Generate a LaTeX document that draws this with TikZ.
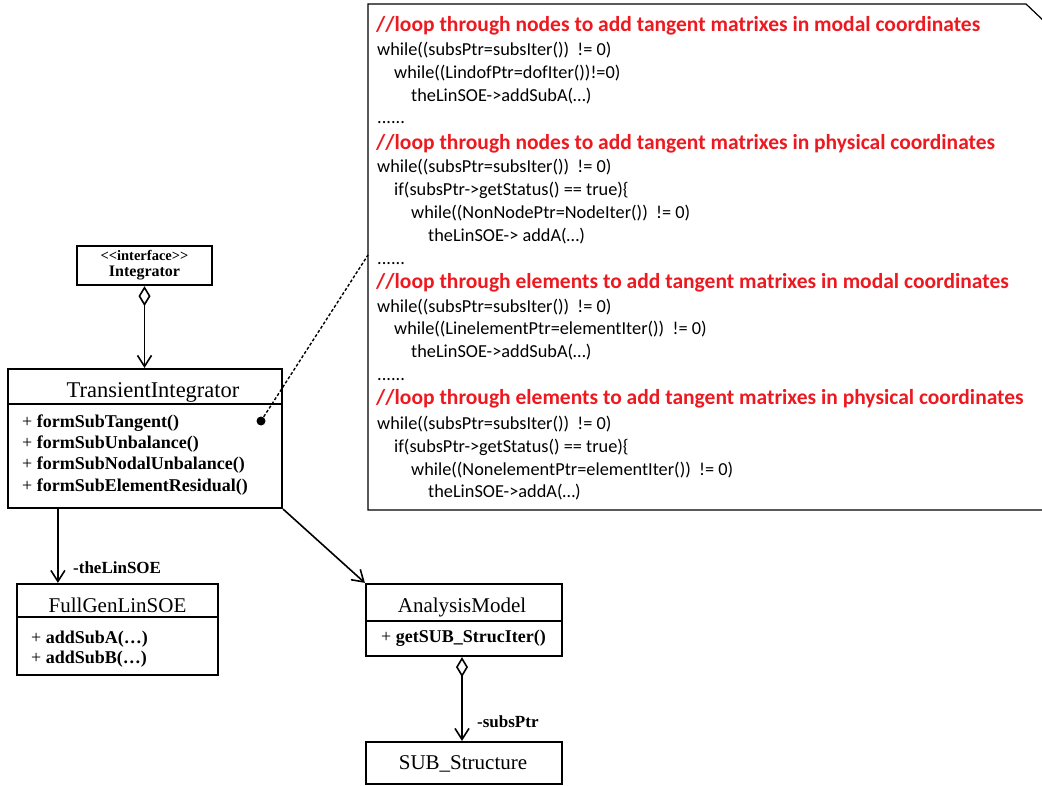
\documentclass[tikz,border=0pt]{standalone}
\usepackage{fontspec}
\newfontfamily\umlfont{Liberation Serif}
\newfontfamily\codefont{Carlito}
\usetikzlibrary{arrows.meta,calc}
\definecolor{noteRed}{RGB}{236,26,32}
\tikzset{
  umlbox/.style={draw, line width=2.2pt, inner sep=0pt},
  divider/.style={line width=1.3pt},
  cname/.style={font=\umlfont\fontsize{21}{24}\selectfont, anchor=base, inner sep=0pt},
  meth/.style={font=\umlfont\fontsize{18}{21}\selectfont, anchor=base west, inner sep=0pt},
  role/.style={font=\umlfont\bfseries\fontsize{17}{20}\selectfont, anchor=base west, inner sep=0pt},
  code/.style={font=\codefont\fontsize{18.3}{21}\selectfont, anchor=base west, inner sep=0pt},
  codehead/.style={font=\codefont\bfseries\fontsize{21.5}{24}\selectfont, text=noteRed, anchor=base west, inner sep=0pt},
  assoc/.style={line width=1.6pt, -{Straight Barb[length=11pt, width=14pt, line width=1.6pt]}},
  aggr/.style={line width=1.6pt, {Diamond[open, length=20pt, width=12pt, line width=1.6pt]}-{Straight Barb[length=11pt, width=14pt, line width=1.6pt]}},
}
\newcommand{\plusb}[1]{+ \textbf{#1}}
\begin{document}
\begin{tikzpicture}[x=1pt, y=-1pt]
\useasboundingbox (0,0) rectangle (1042,786);

% ---- interface Integrator
\node[umlbox, minimum width=135pt, minimum height=39pt] (int) at (144.5,265.5) {};
\node[font=\umlfont\bfseries\fontsize{14.5}{16}\selectfont, anchor=base, inner sep=0pt] (intst) at (144.5,261) {<<interface>>};
\node[font=\umlfont\bfseries\fontsize{16}{18}\selectfont, anchor=base, inner sep=0pt] (intname) at (144.5,277) {Integrator};

% ---- TransientIntegrator
\node[umlbox, minimum width=274pt, minimum height=139pt] (ti) at (145,438.5) {};
\draw[divider] (ti.west |- 0,404) -- (ti.east |- 0,404);
\node[cname, font=\umlfont\fontsize{22.5}{25}\selectfont] (tiname) at (153,398) {TransientIntegrator};
\node[meth] (tim1) at (22,427) {\plusb{formSubTangent()}};
\node[meth] (tim2) at (22,448) {\plusb{formSubUnbalance()}};
\node[meth] (tim3) at (22,469) {\plusb{formSubNodalUnbalance()}};
\node[meth] (tim4) at (22,491) {\plusb{formSubElementResidual()}};

% ---- FullGenLinSOE
\node[umlbox, minimum width=201pt, minimum height=91pt] (fg) at (117.5,629.5) {};
\draw[divider] (fg.west |- 0,617) -- (fg.east |- 0,617);
\node[cname] (fgname) at (117.5,612) {FullGenLinSOE};
\node[meth] (fgm1) at (31,643) {\plusb{addSubA(\ldots)}};
\node[meth] (fgm2) at (31,663) {\plusb{addSubB(\ldots)}};

% ---- AnalysisModel
\node[umlbox, minimum width=196pt, minimum height=72pt] (am) at (464,620) {};
\draw[divider] (am.west |- 0,621) -- (am.east |- 0,621);
\node[cname] (amname) at (462,612) {AnalysisModel};
\node[meth] (amm1) at (381,642) {\plusb{getSUB\_StrucIter()}};

% ---- SUB_Structure
\node[umlbox, minimum width=196pt, minimum height=42pt] (sub) at (464,763) {};
\node[cname] (subname) at (463,769) {SUB\_Structure};

% ---- relations
\draw[aggr] (int.south) -- (int.south |- ti.north);
\draw[assoc] ($(ti.south west)+(51,0)$) coordinate (tfa) -- (tfa |- fg.north);
\node[role] (lsoe) at (73,573) {-theLinSOE};
\draw[assoc] (ti.south east) -- (am.north west);
\draw[aggr] ($(am.south)+(-2,0)$) coordinate (asa) -- (asa |- sub.north);
\node[role] (sptr) at (477,727) {-subsPtr};

% ---- note with folded corner (right side runs off the page)
\draw[line width=1.2pt] (1046,510) -- (368,510) -- (368,4) -- (1026,4) -- (1046,23);
\coordinate (notepin) at (368,255);
\node[circle, fill, inner sep=0pt, minimum size=9pt] (pin) at (261,421) {};
\draw[line width=1.4pt, dash pattern=on 3pt off 2pt] (pin.center) -- (notepin);

% note text
\node[codehead] (h1) at (376,32) {//loop through nodes to add tangent matrixes in modal coordinates};
\node[code] (a1) at (377,56) {while((subsPtr=subsIter())\ \ != 0)};
\node[code] (a2) at (394,79) {while((LindofPtr=dofIter())!=0)};
\node[code] (a3) at (411,102) {theLinSOE->addSubA(…)};
\node[code] (d1) at (377,124) {......};
\node[codehead] (h2) at (376,150) {//loop through nodes to add tangent matrixes in physical coordinates};
\node[code] (b1) at (377,173) {while((subsPtr=subsIter())\ \ != 0)};
\node[code] (b2) at (394,196) {if(subsPtr->getStatus() == true)\{};
\node[code] (b3) at (411,219) {while((NonNodePtr=NodeIter())\ \ != 0)};
\node[code] (b4) at (428,242) {theLinSOE-> addA(…)};
\node[code] (d2) at (377,265) {......};
\node[codehead] (h3) at (376,289) {//loop through elements to add tangent matrixes in modal coordinates};
\node[code] (c1) at (377,313) {while((subsPtr=subsIter())\ \ != 0)};
\node[code] (c2) at (394,335) {while((LinelementPtr=elementIter())\ \ != 0)};
\node[code] (c3) at (411,358) {theLinSOE->addSubA(…)};
\node[code] (d3) at (377,381) {......};
\node[codehead] (h4) at (376,404) {//loop through elements to add tangent matrixes in physical coordinates};
\node[code] (e1) at (377,429) {while((subsPtr=subsIter())\ \ != 0)};
\node[code] (e2) at (394,452) {if(subsPtr->getStatus() == true)\{};
\node[code] (e3) at (411,475) {while((NonelementPtr=elementIter())\ \ != 0)};
\node[code] (e4) at (428,497) {theLinSOE->addA(…)};
\end{tikzpicture}
\end{document}
